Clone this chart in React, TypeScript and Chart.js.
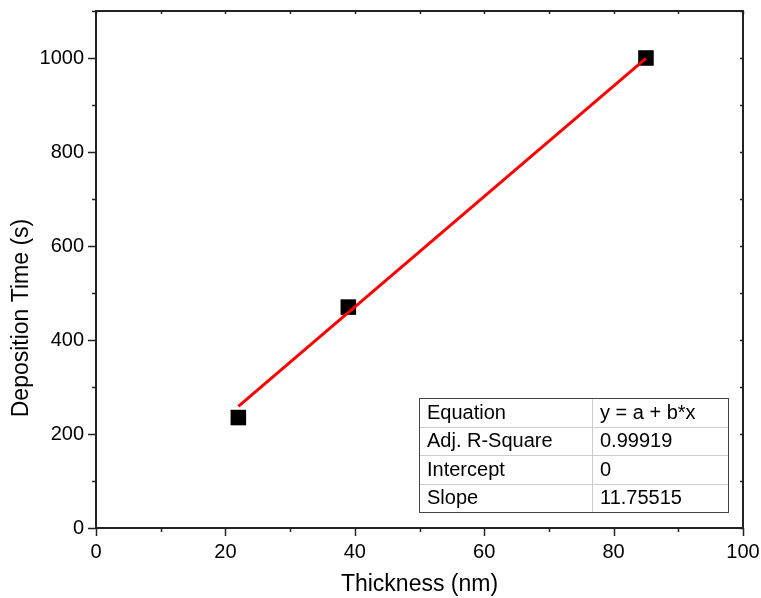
import React, { useEffect, useRef } from 'react';
import { Chart, registerables } from 'chart.js';

Chart.register(...registerables);

const thickness = [22, 39, 85];
const depositionTime = [235, 470, 1000];
const fitX = [22, 85];
const fitY = [259, 999];
const xAxisTitle = 'Thickness (nm)';
const yAxisTitle = 'Deposition Time (s)';
const tableLabels = ['Equation', 'Adj. R-Square', 'Intercept', 'Slope'];
const tableValues = ['y = a + b*x', '0.99919', '0', '11.75515'];

const FONT = "'Liberation Sans', Arial, sans-serif";

const framePlugin = {
  id: 'frame',
  afterDatasetsDraw(chart: any) {
    const { ctx, chartArea: a, scales } = chart;
    const xs = scales.x;
    const ys = scales.y;
    ctx.save();
    ctx.strokeStyle = '#222';
    ctx.lineWidth = 1.5;
    ctx.beginPath();
    for (let v = 0; v <= 100; v += 10) {
      const px = Math.round(xs.getPixelForValue(v)) + 0.5;
      ctx.moveTo(px, a.bottom);
      ctx.lineTo(px, a.bottom + (v % 20 === 0 ? 8 : 4));
      ctx.moveTo(px, a.top);
      ctx.lineTo(px, a.top + 3);
    }
    for (let v = 0; v <= 1100; v += 100) {
      const py = Math.round(ys.getPixelForValue(v)) + 0.5;
      ctx.moveTo(a.left, py);
      ctx.lineTo(a.left - (v % 200 === 0 ? 8 : 4), py);
      ctx.moveTo(a.right, py);
      ctx.lineTo(a.right - 3, py);
    }
    ctx.stroke();
    ctx.lineWidth = 2;
    ctx.strokeRect(a.left, a.top, a.right - a.left, a.bottom - a.top);

    // y axis title (placed as in the original, below the axis centre)
    ctx.save();
    ctx.translate(22, 318);
    ctx.rotate(-Math.PI / 2);
    ctx.fillStyle = '#000';
    ctx.font = `23px ${FONT}`;
    ctx.textAlign = 'center';
    ctx.textBaseline = 'middle';
    ctx.fillText(yAxisTitle, 0, 0);
    ctx.restore();

    // fit results table
    const tl = 419, tt = 398, tr = 728, tb = 512, split = 592;
    const rh = (tb - tt) / tableLabels.length;
    ctx.fillStyle = '#fff';
    ctx.fillRect(tl, tt, tr - tl, tb - tt);
    ctx.strokeStyle = '#ccc';
    ctx.lineWidth = 1;
    ctx.beginPath();
    for (let i = 1; i < tableLabels.length; i++) {
      const y = Math.round(tt + rh * i) + 0.5;
      ctx.moveTo(tl, y);
      ctx.lineTo(tr, y);
    }
    ctx.moveTo(split + 0.5, tt);
    ctx.lineTo(split + 0.5, tb);
    ctx.stroke();
    ctx.strokeStyle = '#444';
    ctx.strokeRect(tl + 0.5, tt + 0.5, tr - tl, tb - tt);
    ctx.fillStyle = '#000';
    ctx.font = `20px ${FONT}`;
    ctx.textBaseline = 'middle';
    ctx.textAlign = 'left';
    for (let i = 0; i < tableLabels.length; i++) {
      const cy = tt + rh * (i + 0.5) + 1;
      ctx.fillText(tableLabels[i], tl + 8, cy);
      ctx.fillText(tableValues[i], split + 8, cy);
    }
    ctx.restore();
  },
};

export default function App() {
  const ref = useRef<HTMLCanvasElement>(null);
  useEffect(() => {
    const chart = new Chart(ref.current!, {
      type: 'scatter',
      data: {
        datasets: [
          {
            type: 'line',
            label: 'Fit',
            data: fitX.map((x, i) => ({ x, y: fitY[i] })),
            borderColor: '#ff0000',
            borderWidth: 3,
            pointRadius: 0,
            fill: false,
            order: 0,
          },
          {
            type: 'scatter',
            label: 'Data',
            data: thickness.map((x, i) => ({ x, y: depositionTime[i] })),
            pointStyle: 'rect',
            pointRadius: 11,
            backgroundColor: '#000',
            borderColor: '#000',
            borderWidth: 0,
            order: 1,
          },
        ],
      },
      options: {
        responsive: false,
        animation: false,
        layout: { padding: { top: 8, right: 18, left: 0, bottom: 0 } },
        plugins: { legend: { display: false }, tooltip: { enabled: false } },
        scales: {
          x: {
            type: 'linear',
            min: 0,
            max: 100,
            afterFit: (s: any) => { s.height = 70; s.paddingLeft = 0; s.paddingRight = 0; },
            ticks: { stepSize: 20, includeBounds: false, color: '#000', padding: 4, font: { family: FONT, size: 20 }, callback: (v: any) => String(v) },
            grid: { display: true, drawOnChartArea: false, color: 'transparent', tickLength: 8 },
            border: { display: false },
            title: { display: true, text: xAxisTitle, color: '#000', font: { family: FONT, size: 23 }, padding: { bottom: 0 } },
          },
          y: {
            type: 'linear',
            min: 0,
            max: 1100,
            afterFit: (s: any) => { s.width = 96; s.paddingTop = 0; s.paddingBottom = 0; },
            ticks: { stepSize: 200, includeBounds: false, color: '#000', padding: 4, font: { family: FONT, size: 20, lineHeight: 0.7 }, callback: (v: any) => String(v) },
            grid: { display: true, drawOnChartArea: false, color: 'transparent', tickLength: 8 },
            border: { display: false },
            title: { display: false },
          },
        },
      },
      plugins: [framePlugin],
    });
    return () => chart.destroy();
  }, []);
  return (
    <div style={{ position: 'fixed', left: 0, top: 0, width: 761, height: 598, background: '#fff' }}>
      <canvas ref={ref} width={761} height={598} style={{ display: 'block', width: 761, height: 598 }} />
    </div>
  );
}
